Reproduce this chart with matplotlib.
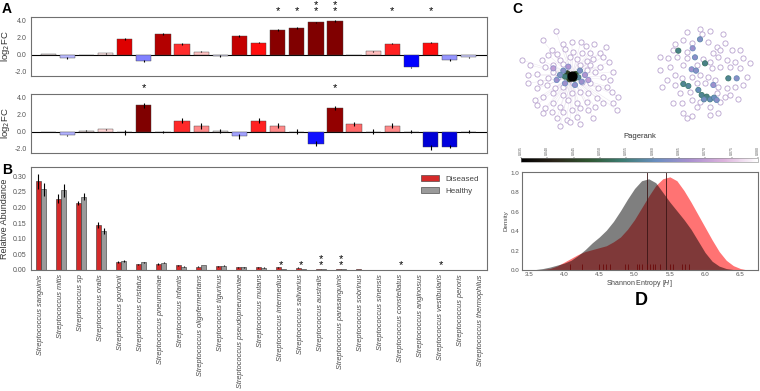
import numpy as np
import matplotlib
matplotlib.use("Agg")
import matplotlib.pyplot as plt
from matplotlib import colors, cm
from matplotlib.patches import Patch
import matplotlib.transforms as mtransforms

plt.rcParams['font.family'] = ['Liberation Sans', 'DejaVu Sans']

species = ["sanguinis", "mitis", "sp", "oralis", "gordonii", "cristatus", "pneumoniae",
           "infantis", "oligofermentans", "tigurinus", "pseudopneumoniae", "mutans",
           "intermedius", "salivarius", "australis", "parasanguinis", "sobrinus",
           "sinensis", "constellatus", "anginosus", "vestibularis", "peroris", "thermophilus"]
species_labels = ["Streptococcus " + s for s in species]

# panel A, log2 fold change (two comparisons)
fc_top = [0.08, -0.4, -0.05, 0.15, 1.88, -0.75, 2.38, 1.24, 0.36, -0.18, 2.2, 1.41,
          2.9, 3.1, 3.76, 3.9, 0.0, 0.38, 1.3, -1.5, 1.41, -0.63, -0.3]
fc_top_err = [0.05, 0.1, 0.05, 0.05, 0.12, 0.12, 0.1, 0.1, 0.1, 0.08, 0.12, 0.1,
              0.1, 0.1, 0.1, 0.1, 0.0, 0.1, 0.1, 0.1, 0.1, 0.1, 0.08]
stars_top = ["", "", "", "", "", "", "", "", "", "", "", "",
             "*", "*", "**", "**", "", "", "*", "", "*", "", ""]

fc_bottom = [0.0, -0.45, 0.1, 0.25, -0.1, 3.1, -0.05, 1.25, 0.7, 0.05, -0.55, 1.3,
             0.7, 0.0, -1.4, 2.75, 0.87, 0.0, 0.7, 0.0, -1.85, -1.77, 0.0]
fc_bottom_err = [0.0, 0.1, 0.05, 0.05, 0.3, 0.3, 0.1, 0.3, 0.35, 0.25, 0.3, 0.3,
                 0.3, 0.3, 0.3, 0.25, 0.2, 0.3, 0.3, 0.2, 0.25, 0.2, 0.2]
stars_bottom = ["", "", "", "", "", "*", "", "", "", "", "", "",
                "", "", "", "*", "", "", "", "", "", "", ""]

# panel B, relative abundance
abund_diseased = [0.284, 0.229, 0.214, 0.144, 0.026, 0.018, 0.019, 0.015, 0.011, 0.012,
                  0.009, 0.009, 0.009, 0.008, 0.004, 0.004, 0.002, 0.001, 0.001, 0.001,
                  0.001, 0.0003, 0.0001]
abund_healthy = [0.258, 0.255, 0.235, 0.125, 0.029, 0.025, 0.023, 0.011, 0.016, 0.014,
                 0.009, 0.008, 0.004, 0.003, 0.002, 0.002, 0.001, 0.001, 0.0005, 0.001,
                 0.0005, 0.0002, 0.0001]
err_diseased = [0.025, 0.015, 0.007, 0.01, 0.002, 0.002, 0.002, 0.001, 0.001, 0.001,
                0.001, 0.001, 0.001, 0.001, 0.0005, 0.0005, 0.0003, 0.0002, 0.0002, 0.0002,
                0.0002, 0.0001, 0.0001]
err_healthy = [0.02, 0.02, 0.012, 0.01, 0.002, 0.002, 0.002, 0.001, 0.001, 0.001,
               0.001, 0.001, 0.0005, 0.0005, 0.0003, 0.0003, 0.0002, 0.0002, 0.0001, 0.0002,
               0.0001, 0.0001, 0.0001]

# panel C, network nodes (position in picture units) and pagerank
left_nodes_x = [137, 98, 160, 185, 212, 228, 253, 288, 125, 140, 165, 190, 215, 240, 270,
                35, 95, 115, 150, 180, 200, 230, 250, 280, 297, 60, 80, 105, 130, 160, 210,
                240, 270, 310, 55, 90, 115, 130, 145, 230, 255, 280, 300, 55, 80, 110, 135,
                160, 190, 215, 240, 265, 290, 75, 100, 130, 160, 185, 210, 235, 260, 305,
                325, 80, 105, 130, 150, 175, 200, 230, 255, 280, 310, 320, 100, 125, 160,
                185, 210, 235, 140, 170, 200, 250, 150, 210, 180]
left_nodes_y = [92, 121, 132, 125, 127, 137, 133, 142, 150, 162, 148, 155, 158, 160, 160,
                180, 180, 165, 180, 170, 178, 183, 178, 170, 187, 195, 222, 200, 195, 193, 195,
                195, 200, 215, 225, 245, 235, 215, 230, 210, 215, 230, 240, 250, 265, 255, 265,
                260, 250, 245, 250, 265, 260, 300, 290, 280, 285, 280, 275, 280, 295, 275,
                290, 315, 325, 310, 320, 300, 310, 305, 320, 310, 310, 330, 340, 335, 335,
                330, 325, 330, 355, 360, 350, 355, 378, 372, 365]
left_core_x = [185, 172, 197, 178, 193, 165, 205, 160, 150, 140, 210, 215, 195, 165, 175, 225, 130, 235]
left_core_y = [228, 220, 222, 238, 236, 230, 232, 212, 225, 240, 212, 245, 255, 250, 200, 225, 205, 240]
left_core_pr = [0.036, 0.045, 0.048, 0.046, 0.052, 0.055, 0.058, 0.064, 0.063, 0.066,
                0.063, 0.066, 0.065, 0.066, 0.068, 0.068, 0.07, 0.07]

right_nodes_x = [570, 530, 575, 600, 640, 495, 520, 545, 595, 620, 645, 490, 530, 610,
                 630, 665, 690, 450, 475, 500, 530, 580, 600, 625, 650, 675, 700, 720, 480,
                 520, 560, 605, 630, 660, 690, 450, 470, 495, 515, 545, 570, 595, 615, 710,
                 455, 495, 560, 585, 625, 650, 675, 700, 510, 540, 620, 645, 660, 685, 490,
                 515, 545, 570, 630, 560, 600, 520, 545, 600, 625, 530]
right_nodes_y = [88, 95, 103, 92, 103, 133, 120, 130, 125, 140, 130, 150, 155, 160,
                 150, 150, 150, 170, 175, 170, 175, 178, 185, 170, 180, 185, 175, 190, 200,
                 195, 195, 205, 200, 200, 205, 210, 240, 225, 235, 230, 225, 230, 240, 230,
                 262, 255, 250, 250, 262, 265, 260, 255, 280, 275, 280, 290, 285, 298, 308,
                 310, 300, 305, 305, 320, 320, 340, 348, 345, 340, 355]
right_core_x = [505, 548, 555, 585, 545, 558, 520, 535, 565, 575, 590, 600, 612, 582, 655, 680, 570, 610, 620]
right_core_y = [152, 145, 172, 190, 208, 212, 252, 258, 270, 285, 290, 298, 293, 298, 235, 235, 118, 255, 300]
right_core_pr = [0.056, 0.066, 0.064, 0.056, 0.066, 0.064, 0.057, 0.058, 0.06, 0.057,
                 0.056, 0.06, 0.061, 0.062, 0.057, 0.064, 0.063, 0.066, 0.064]
pr_ticks = [0.035, 0.040, 0.045, 0.050, 0.055, 0.060, 0.065, 0.070, 0.075, 0.080]
pr_colors = ['#000000', '#2b2419', '#2f5630', '#3d7c72', '#6a8ec0', '#a98fcf',
             '#dcb2dc', '#ffffff']

# panel D, density of Shannon entropy
entropy_x = [3.5, 3.6, 3.7, 3.8, 3.9, 4.0, 4.1, 4.2, 4.3, 4.4, 4.5, 4.6, 4.7, 4.8, 4.9, 5.0,
             5.1, 5.2, 5.3, 5.4, 5.5, 5.6, 5.7, 5.8, 5.9, 6.0, 6.1, 6.2, 6.3, 6.4, 6.5, 6.6]
density_healthy = [0.0, 0.005, 0.015, 0.03, 0.05, 0.07, 0.1, 0.15, 0.21, 0.28, 0.34, 0.41,
                   0.5, 0.61, 0.73, 0.84, 0.92, 0.94, 0.9, 0.8, 0.7, 0.61, 0.52, 0.42, 0.3,
                   0.18, 0.09, 0.04, 0.015, 0.005, 0.0, 0.0]
density_diseased = [0.0, 0.0, 0.005, 0.015, 0.04, 0.08, 0.12, 0.16, 0.19, 0.21, 0.23, 0.25,
                    0.29, 0.34, 0.42, 0.52, 0.64, 0.76, 0.87, 0.94, 0.96, 0.92, 0.82, 0.7,
                    0.57, 0.44, 0.31, 0.19, 0.1, 0.045, 0.015, 0.0]
mean_healthy = 5.18
mean_diseased = 5.45
entropy_rug = [4.08, 4.25, 4.5, 4.55, 4.6, 4.65, 4.86, 4.9, 5.03, 5.07, 5.1, 5.17, 5.22,
               5.26, 5.29, 5.36, 5.5, 5.54, 5.67, 5.71, 5.77]

W, H = 760.0, 391.0


def box(x0, y0, x1, y1):
    # pixel box (top-left origin) -> figure fraction
    return [x0 / W, 1 - y1 / H, (x1 - x0) / W, (y1 - y0) / H]


def style_spines(ax):
    for s in ax.spines.values():
        s.set_color('#707070')
        s.set_linewidth(0.8)


def star_text(ax, x, y, s, transform):
    # stacked asterisks as one text, bottom star sits on baseline y
    if s:
        ax.text(x, y, '\n'.join(s), transform=transform, ha='center', va='baseline',
                fontsize=8, linespacing=0.55, clip_on=False)


fig = plt.figure(figsize=(7.6, 3.91), dpi=100)

fc_cmap = plt.get_cmap('seismic')
fc_norm = colors.Normalize(-3, 3)


def fc_panel(ax, vals, errs, stars, star_base):
    x = np.arange(len(vals))
    ax.bar(x, vals, 0.8, yerr=errs, color=fc_cmap(fc_norm(np.array(vals))),
           edgecolor='#404040', linewidth=0.3,
           error_kw=dict(elinewidth=0.8, ecolor='black', capsize=0))
    ax.axhline(0, color='black', lw=0.8, zorder=0.5)
    ax.set_xlim(-0.9, 22.95)
    ax.set_ylim(-2.5, 4.4)
    ax.set_xticks([])
    ax.set_yticks([-2, 0, 2, 4])
    ax.set_yticklabels(['-2.0', '0.0', '2.0', '4.0'])
    ax.tick_params(axis='y', length=0, labelsize=5, labelcolor='#555555', pad=3)
    ax.set_ylabel('log$_2$FC', fontsize=6.8, color='#333333', labelpad=2)
    style_spines(ax)
    trans = mtransforms.blended_transform_factory(ax.transData, ax.transAxes)
    for i, s in enumerate(stars):
        star_text(ax, i, star_base, s, trans)


ax_a1 = fig.add_axes(box(31, 17, 487, 76))
fc_panel(ax_a1, fc_top, fc_top_err, stars_top, 1.05)
ax_a2 = fig.add_axes(box(31, 94, 487, 153))
fc_panel(ax_a2, fc_bottom, fc_bottom_err, stars_bottom, 1.05)

# panel B
ax_b = fig.add_axes(box(31, 167, 487, 270))
xb = np.arange(len(species))
w = 0.26
ax_b.bar(xb - w / 2, abund_diseased, w, yerr=err_diseased, color='#d42a2a',
         edgecolor='#333333', linewidth=0.4, label='Diseased',
         error_kw=dict(elinewidth=0.8, ecolor='black', capsize=0))
ax_b.bar(xb + w / 2, abund_healthy, w, yerr=err_healthy, color='#9a9a9a',
         edgecolor='#333333', linewidth=0.4, label='Healthy',
         error_kw=dict(elinewidth=0.8, ecolor='black', capsize=0))
ax_b.set_xlim(-0.5, 22.3)
ax_b.set_ylim(0, 0.33)
ax_b.set_yticks([0, 0.05, 0.1, 0.15, 0.2, 0.25, 0.3])
ax_b.set_yticklabels(['0.00', '0.05', '0.10', '0.15', '0.20', '0.25', '0.30'])
ax_b.set_xticks(xb)
ax_b.set_xticklabels(species_labels, rotation=90, style='italic')
ax_b.tick_params(axis='y', length=0, labelsize=5, labelcolor='#555555', pad=3)
ax_b.tick_params(axis='x', length=0, labelsize=5.3, labelcolor='#444444', pad=3)
ax_b.set_ylabel('Relative Abundance', fontsize=6.5, color='#333333', labelpad=3)
style_spines(ax_b)
for i, s in enumerate(stars_top):
    star_text(ax_b, i, 0.005, s, ax_b.transData)
ax_b.legend(handles=[Patch(facecolor='#d42a2a', edgecolor='#333333', lw=0.4, label='Diseased'),
                     Patch(facecolor='#9a9a9a', edgecolor='#333333', lw=0.4, label='Healthy')],
            loc='upper right', frameon=False, fontsize=5.8, handlelength=2.2,
            handleheight=0.8, labelcolor='#444444', borderaxespad=0.6)

# panel C, networks
pr_cmap = colors.LinearSegmentedColormap.from_list('pagerank', pr_colors)
pr_norm = colors.Normalize(pr_ticks[0], pr_ticks[-1])
ax_c = fig.add_axes(box(510, 0, 760, 140))
ax_c.set_xlim(0, 750)
ax_c.set_ylim(420, 0)
ax_c.axis('off')
hub_x, hub_y = left_core_x[0], left_core_y[0]
for nx, ny in zip(left_nodes_x + left_core_x[1:], left_nodes_y + left_core_y[1:]):
    ax_c.plot([hub_x, nx], [hub_y, ny], color='#d8cde0', lw=0.3, alpha=0.6, zorder=1)
light_edge = '#b8a2cf'
ax_c.scatter(left_nodes_x, left_nodes_y, s=14, facecolor='white', edgecolor=light_edge,
             linewidths=0.6, zorder=2)
ax_c.scatter(right_nodes_x, right_nodes_y, s=14, facecolor='white', edgecolor=light_edge,
             linewidths=0.6, zorder=2)
for cx, cy, cp in [(left_core_x, left_core_y, left_core_pr),
                   (right_core_x, right_core_y, right_core_pr)]:
    vals = pr_norm(np.array(cp))
    ax_c.scatter(cx, cy, s=14, c=pr_cmap(vals), edgecolor=pr_cmap(vals * 0.85),
                 linewidths=0.6, zorder=3)
ax_c.scatter([hub_x], [hub_y], s=40, c=[pr_cmap(0.0)], zorder=4)

# colorbar
cax = fig.add_axes(box(521, 157.7, 758, 161.7))
cb = fig.colorbar(cm.ScalarMappable(norm=pr_norm, cmap=pr_cmap), cax=cax,
                  orientation='horizontal')
cb.set_ticks(pr_ticks)
cax.xaxis.set_ticks_position('top')
cax.tick_params(axis='x', length=1, width=0.3, labelsize=2.5, labelrotation=90,
                labelcolor='#555555', pad=1)
cb.outline.set_edgecolor('#888888')
cb.outline.set_linewidth(0.4)
fig.text(640 / W, 1 - 137 / H, 'Pagerank', ha='center', va='center', fontsize=5.5,
         color='#333333')

# panel D, density
ax_d = fig.add_axes(box(521.7, 172, 758, 270))
ax_d.fill_between(entropy_x, density_diseased, color='#ff0000', alpha=0.55, lw=0)
ax_d.fill_between(entropy_x, density_healthy, color='black', alpha=0.5, lw=0)
ax_d.axvline(mean_healthy, color='#3a1414', lw=0.6)
ax_d.axvline(mean_diseased, color='#3a1414', lw=0.6)
ax_d.vlines(entropy_rug, 0, 0.06, color='#6a0a0a', lw=0.6)
ax_d.set_xlim(3.4, 6.75)
ax_d.set_ylim(0, 1.01)
ax_d.set_xticks([3.5, 4.0, 4.5, 5.0, 5.5, 6.0, 6.5])
ax_d.set_yticks([0, 0.2, 0.4, 0.6, 0.8, 1.0])
ax_d.tick_params(axis='both', length=0, labelsize=4.5, labelcolor='#555555', pad=1.5)
ax_d.set_xlabel('Shannon Entropy [$H$]', fontsize=5, color='#444444', labelpad=1)
ax_d.set_ylabel('Density', fontsize=4.5, color='#444444', labelpad=2)
style_spines(ax_d)

# panel letters
fig.text(2 / W, 1 - 13 / H, 'A', fontsize=10, fontweight='bold')
fig.text(2 / W, 1 - 174 / H, 'B', fontsize=10, fontweight='bold')
fig.text(512 / W, 1 - 13 / H, 'C', fontsize=10, fontweight='bold')
fig.text(641 / W, 1 - 305 / H, 'D', fontsize=13, fontweight='bold', ha='center')

fig.savefig('out.png', dpi=100)
